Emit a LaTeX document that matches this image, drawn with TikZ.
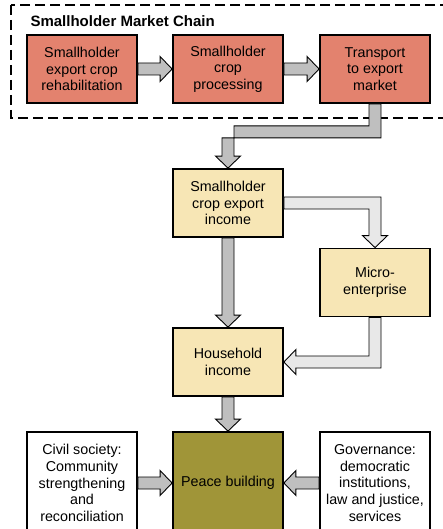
\documentclass[tikz,border=0pt]{standalone}
\usepackage{fontspec}
\setmainfont{Liberation Sans}
\usetikzlibrary{calc, positioning}

\definecolor{chainred}{HTML}{E3826E}
\definecolor{incomeyellow}{HTML}{F7E6B5}
\definecolor{peaceolive}{HTML}{A09538}

\begin{document}
\begin{tikzpicture}[x=1pt, y=-1pt,
  box/.style={draw=black, line width=1.8pt, minimum width=110pt, minimum height=68pt,
    align=center, inner sep=0pt, font=\fontsize{14.3}{16.6}\selectfont},
  chainbox/.style={box, fill=chainred},
  incomebox/.style={box, fill=incomeyellow},
  sidebox/.style={box, fill=white, minimum height=102pt},
  darkarrow/.style={draw=black, line width=0.9pt, fill=gray!50, line join=miter},
  lightarrow/.style={draw=black, line width=0.9pt, fill=gray!18, line join=miter}]
\useasboundingbox (0,0) rectangle (443,529);

% Market chain
\draw[line width=1.8pt, dash pattern=on 10pt off 5pt] (11,5) rectangle (470,118);
\node[anchor=base west, font=\fontsize{15}{18}\selectfont\bfseries] (title) at (27,27) {Smallholder Market Chain};
\node[chainbox] (rehab) at (82,69) {Smallholder\\export crop\\rehabilitation};
\node[chainbox] (process) at (228,69) {Smallholder\\crop\\processing};
\node[chainbox] (transport) at (375,69) {Transport\\to export\\market};

% Income
\node[incomebox] (export) at (228,203) {Smallholder\\crop export\\income};
\node[incomebox] (micro) at (375,282.5) {Micro-\\enterprise};
\node[incomebox] (house) at (228,362) {Household\\income};

% Peace building
\node[box, fill=peaceolive, minimum height=102pt] (peace) at (228,483) {Peace building};
\node[sidebox] (civil) at (82,483) {Civil society:\\Community\\strengthening\\and\\reconciliation};
\node[sidebox] (gov) at (375,483) {Governance:\\democratic\\institutions,\\law and justice,\\services};

\coordinate (k1) at ($(transport.south)+(0,28)$);
\coordinate (k2) at (k1 -| export.north);
\coordinate (k3) at (export.east -| micro.north);
\coordinate (k4) at (micro.south |- house.east);

% Arrows
\draw[darkarrow] ($(rehab.east)+(0,-6)$) -- ($(process.west)+(-12,-6)$) -- ++(0,-6.5) -- (process.west)
  -- ++(-12,12.5) -- ++(0,-6.5) -- ($(rehab.east)+(0,6)$) -- cycle;
\draw[darkarrow] ($(process.east)+(0,-6)$) -- ($(transport.west)+(-12,-6)$) -- ++(0,-6.5) -- (transport.west)
  -- ++(-12,12.5) -- ++(0,-6.5) -- ($(process.east)+(0,6)$) -- cycle;
\draw[darkarrow] ($(transport.south)+(-6,0)$) -- ($(k1)+(-6,-6)$) -- ($(k2)+(6,-6)$)
  -- ($(export.north)+(6,-12)$) -- ++(6.5,0) -- (export.north) -- ++(-12.5,-12) -- ++(6.5,0)
  -- ($(k2)+(-6,6)$) -- ($(k1)+(6,6)$) -- ($(transport.south)+(6,0)$) -- cycle;
\draw[darkarrow] ($(export.south)+(-6,0)$) -- ($(house.north)+(-6,-12)$) -- ++(-6.5,0) -- (house.north)
  -- ++(12.5,-12) -- ++(-6.5,0) -- ($(export.south)+(6,0)$) -- cycle;
\draw[lightarrow] ($(export.east)+(0,-6)$) -- ($(k3)+(6,-6)$) -- ($(micro.north)+(6,-12)$) -- ++(6.5,0)
  -- (micro.north) -- ++(-12.5,-12) -- ++(6.5,0) -- ($(k3)+(-6,6)$) -- ($(export.east)+(0,6)$) -- cycle;
\draw[lightarrow] ($(micro.south)+(-6,0)$) -- ($(k4)+(-6,-6)$) -- ($(house.east)+(12,-6)$) -- ++(0,-6.5)
  -- (house.east) -- ++(12,12.5) -- ++(0,-6.5) -- ($(k4)+(6,6)$) -- ($(micro.south)+(6,0)$) -- cycle;
\draw[darkarrow] ($(house.south)+(-6,0)$) -- ($(peace.north)+(-6,-12)$) -- ++(-6.5,0) -- (peace.north)
  -- ++(12.5,-12) -- ++(-6.5,0) -- ($(house.south)+(6,0)$) -- cycle;
\draw[darkarrow] ($(civil.east)+(0,-6)$) -- ($(peace.west)+(-12,-6)$) -- ++(0,-6.5) -- (peace.west)
  -- ++(-12,12.5) -- ++(0,-6.5) -- ($(civil.east)+(0,6)$) -- cycle;
\draw[darkarrow] ($(gov.west)+(0,-6)$) -- ($(peace.east)+(12,-6)$) -- ++(0,-6.5) -- (peace.east)
  -- ++(12,12.5) -- ++(0,-6.5) -- ($(gov.west)+(0,6)$) -- cycle;
\end{tikzpicture}
\end{document}
